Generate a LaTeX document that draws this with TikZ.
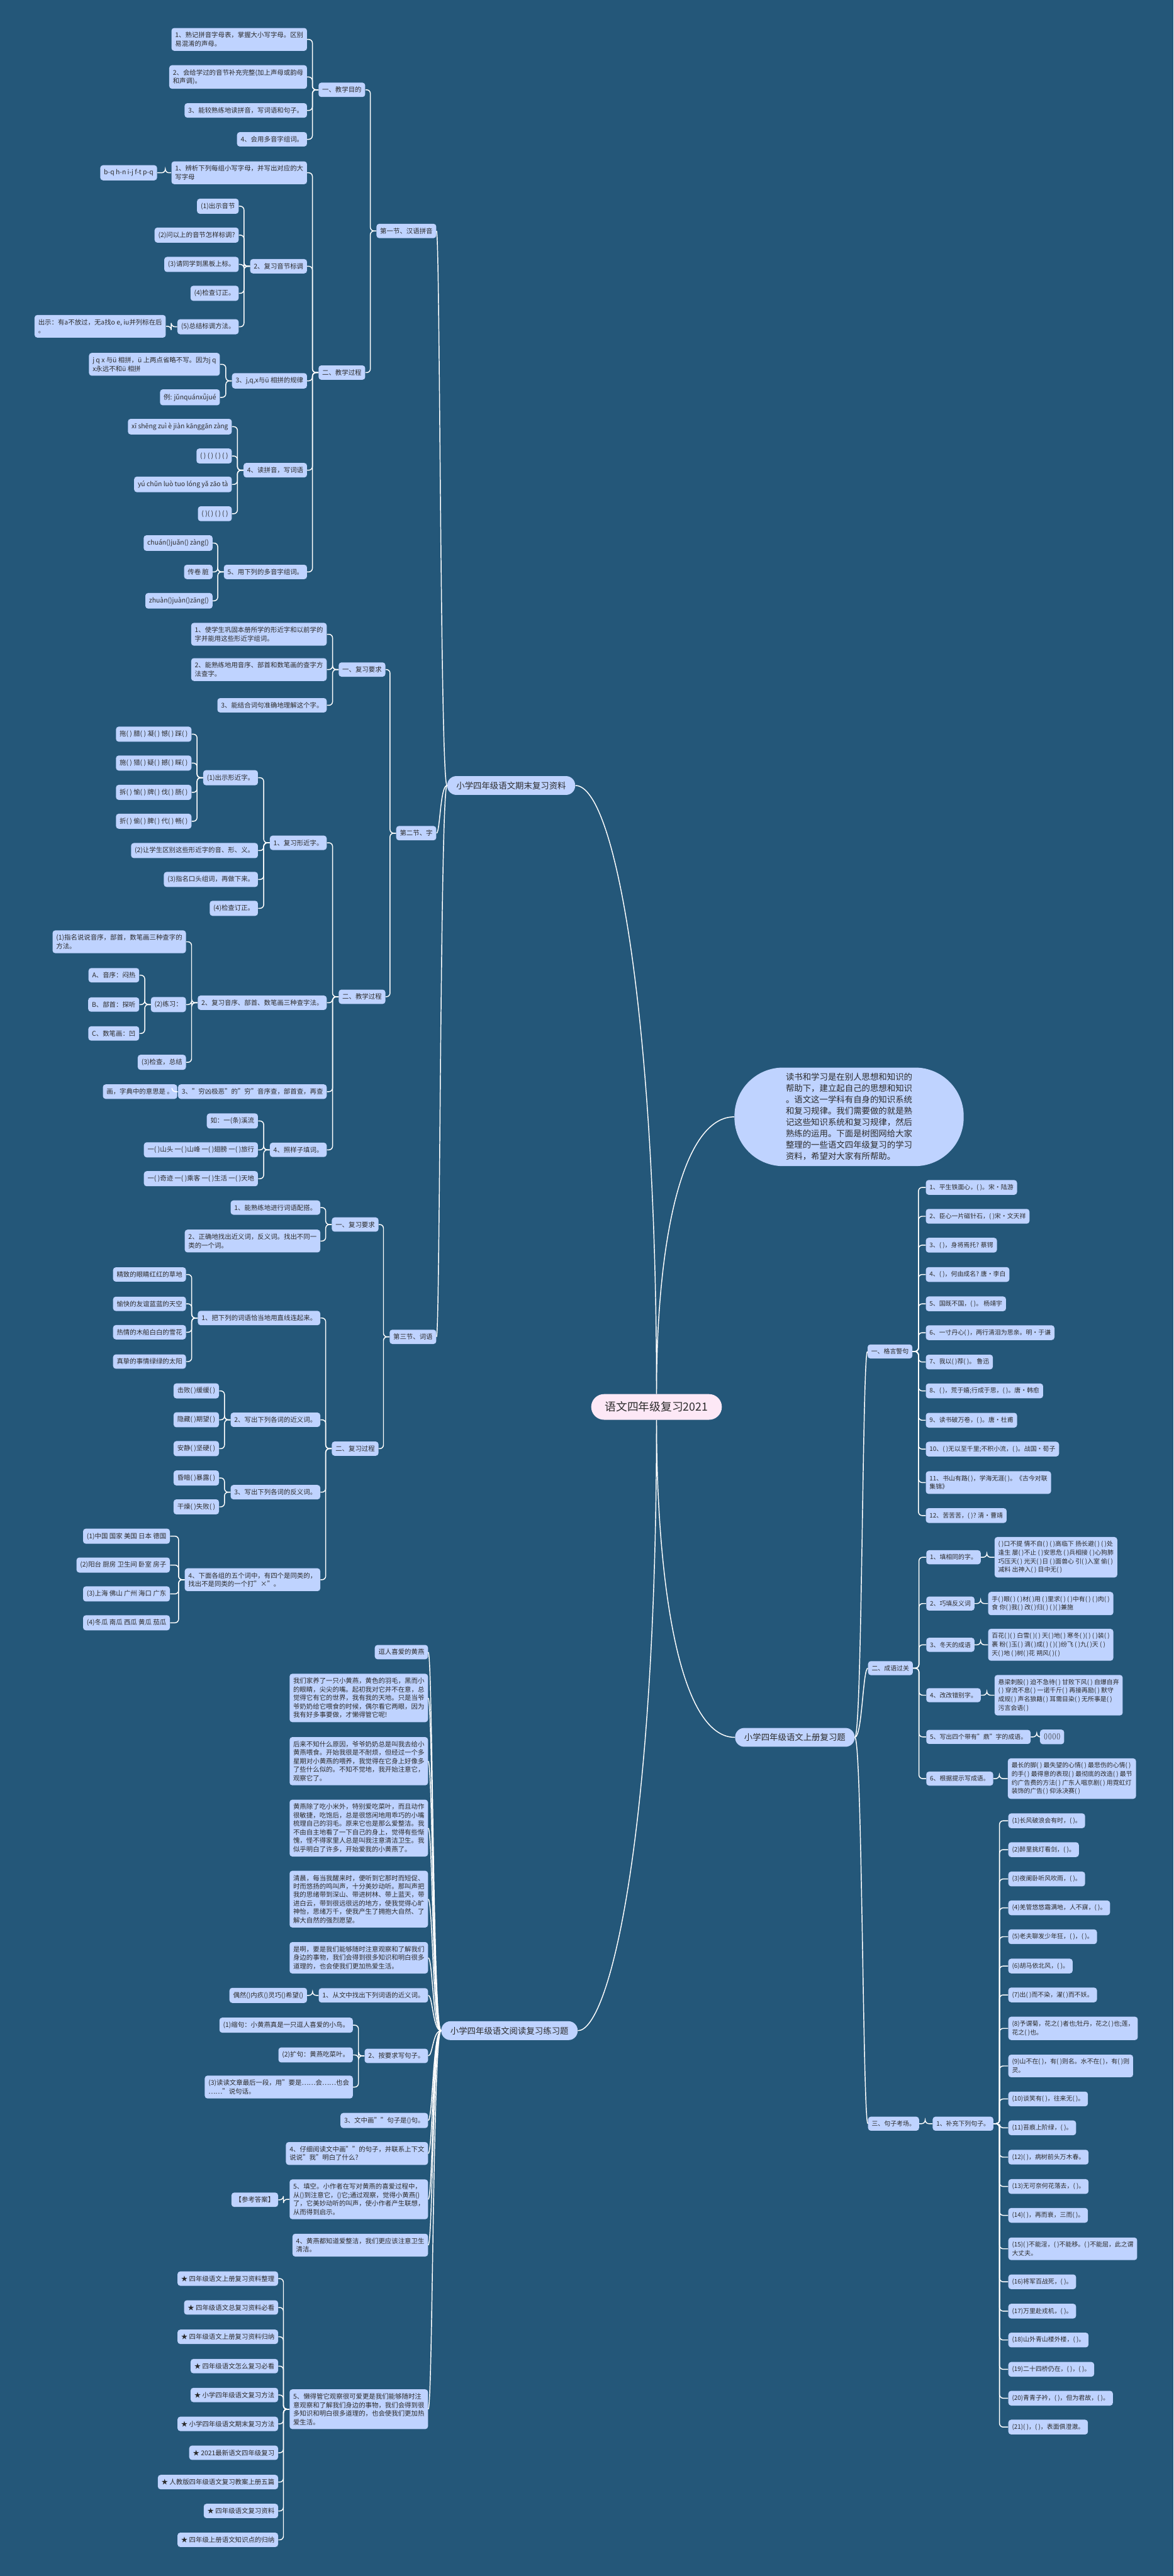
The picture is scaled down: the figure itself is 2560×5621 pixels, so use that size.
\documentclass[tikz,border=0pt]{standalone}
\usepackage{fontspec}
\setmainfont{Noto Sans CJK SC}
\definecolor{bgc}{HTML}{245779}
\definecolor{nodefill}{HTML}{BFD3FF}
\definecolor{rootfill}{HTML}{FDE8F6}
\definecolor{txt}{HTML}{2B2B2B}
\begin{document}
\begin{tikzpicture}[x=0.5pt, y=-0.5pt,
        box/.style={fill=nodefill, text=txt, rounded corners=3pt, inner xsep=4pt, inner ysep=4.5pt, align=left},
        lbox/.style={box, anchor=east, font=\fontsize{7.15}{9.25}\selectfont},
        rbox/.style={box, anchor=west, font=\fontsize{6.8}{9.35}\selectfont},
        mainbox/.style={fill=nodefill, text=txt, rounded corners=10pt, minimum height=20.5pt, inner xsep=10pt, font=\fontsize{9.2}{11}\selectfont},
        rootbox/.style={fill=rootfill, text=txt, rounded corners=14pt, minimum height=28pt, inner xsep=15pt, font=\fontsize{12.2}{14}\selectfont},
        bubble/.style={fill=nodefill, text=txt, rounded corners=53pt, minimum width=250pt, minimum height=107.5pt, align=left, font=\fontsize{9.2}{12.35}\selectfont},
        link/.style={draw=white, line width=1pt, rounded corners=4pt}]
    % bracket links from a parent to its children
    \newcommand{\leftlinks}[2]{\foreach \c in {#2} {\draw[link] (#1.west) -- ++(-13,0) |- (\c.east);}}
    \newcommand{\rightlinks}[2]{\foreach \c in {#2} {\draw[link] (#1.east) -- ++(13,0) |- (\c.west);}}

    \useasboundingbox (0,0) rectangle (2560,5621);
    \fill[bgc] (0,0) rectangle (2560,5621);

    % root and the intro bubble
    \node[rootbox] (root) at (1432,3070) {语文四年级复习2021};
    \node[bubble] (intro) at (1852,2437) {读书和学习是在别人思想和知识的\\帮助下，建立起自己的思想和知识\\。语文这一学科有自身的知识系统\\和复习规律。我们需要做的就是熟\\记这些知识系统和复习规律，然后\\熟练的运用。下面是树图网给大家\\整理的一些语文四年级复习的学习\\资料，希望对大家有所帮助。};

    % main branches
    \node[mainbox, anchor=west] (qimo) at (975,1714) {小学四年级语文期末复习资料};
    \node[mainbox, anchor=west] (yuedu) at (962,4431) {小学四年级语文阅读复习练习题};
    \node[mainbox, anchor=west] (shangce) at (1603,3791) {小学四年级语文上册复习题};

    \draw[link] (root.north) .. controls +(0,-800) and +(90,0) .. (qimo.east);
    \draw[link] (root.north) .. controls +(0,-350) and +(-110,0) .. (intro.west);
    \draw[link] (root.south) .. controls +(0,350) and +(-123,0) .. (shangce.west);
    \draw[link] (root.south) .. controls +(0,900) and +(70,0) .. (yuedu.east);

    % ---------- 第一节 汉语拼音 ----------
    \node[lbox] (s1) at (952,504) {第一节、汉语拼音};
    \node[lbox] (s1a) at (797,196) {一、教学目的};
    \node[lbox] (s1a1) at (670,86) {1、熟记拼音字母表，掌握大小写字母。区别\\易混淆的声母。};
    \node[lbox] (s1a2) at (670,168) {2、会给学过的音节补充完整(加上声母或韵母\\和声调)。};
    \node[lbox] (s1a3) at (670,241) {3、能较熟练地读拼音，写词语和句子。};
    \node[lbox] (s1a4) at (670,304) {4、会用多音字组词。};
    \node[lbox] (s1b) at (797,813) {二、教学过程};
    \node[lbox] (s1b1) at (670,377) {1、辨析下列每组小写字母，并写出对应的大\\写字母};
    \node[lbox] (s1b1a) at (343,377) {b-q h-n i-j f-t p-q};
    \node[lbox] (s1b2) at (670,581) {2、复习音节标调};
    \node[lbox] (s1b2a) at (521,450) {(1)出示音节};
    \node[lbox] (s1b2b) at (521,513) {(2)问以上的音节怎样标调?};
    \node[lbox] (s1b2c) at (521,577) {(3)请同学到黑板上标。};
    \node[lbox] (s1b2d) at (521,640) {(4)检查订正。};
    \node[lbox] (s1b2e) at (521,713) {(5)总结标调方法。};
    \node[lbox] (s1b2e1) at (362,712) {出示：有a不放过，无a找o e, iu并列标在后\\。};
    \node[lbox] (s1b3) at (670,831) {3、j,q,x与ü 相拼的规律};
    \node[lbox] (s1b3a) at (480,795) {j q x 与ü 相拼，ü 上两点省略不写。因为j q\\x永远不和ü 相拼};
    \node[lbox] (s1b3b) at (480,867) {例: jǔnquánxǚjué};
    \node[lbox] (s1b4) at (670,1026) {4、读拼音，写词语};
    \node[lbox] (s1b4a) at (506,931) {xī shēng zuì è jiàn kānggān zàng};
    \node[lbox] (s1b4b) at (506,995) {( ) ( ) ( ) ( )};
    \node[lbox] (s1b4c) at (506,1057) {yú chǔn luò tuo lóng yǎ zāo tà};
    \node[lbox] (s1b4d) at (506,1121) {( )( ) ( ) ( )};
    \node[lbox] (s1b5) at (670,1248) {5、用下列的多音字组词。};
    \node[lbox] (s1b5a) at (464,1185) {chuán()juǎn() zàng()};
    \node[lbox] (s1b5b) at (464,1248) {传卷 脏};
    \node[lbox] (s1b5c) at (464,1311) {zhuàn()juàn()zāng()};

    \leftlinks{s1}{s1a,s1b}
    \leftlinks{s1a}{s1a1,s1a2,s1a3,s1a4}
    \leftlinks{s1b}{s1b1,s1b2,s1b3,s1b4,s1b5}
    \leftlinks{s1b1}{s1b1a}
    \leftlinks{s1b2}{s1b2a,s1b2b,s1b2c,s1b2d,s1b2e}
    \leftlinks{s1b2e}{s1b2e1}
    \leftlinks{s1b3}{s1b3a,s1b3b}
    \leftlinks{s1b4}{s1b4a,s1b4b,s1b4c,s1b4d}
    \leftlinks{s1b5}{s1b5a,s1b5b,s1b5c}

    % ---------- 第二节 字 ----------
    \node[lbox] (s2) at (952,1818) {第二节、字};
    \node[lbox] (s2a) at (841,1461) {一、复习要求};
    \node[lbox] (s2a1) at (713,1384) {1、使学生巩固本册所学的形近字和以前学的\\字并能用这些形近字组词。};
    \node[lbox] (s2a2) at (713,1461) {2、能熟练地用音序、部首和数笔画的查字方\\法查字。};
    \node[lbox] (s2a3) at (713,1539) {3、能结合词句准确地理解这个字。};
    \node[lbox] (s2b) at (841,2175) {二、教学过程};
    \node[lbox] (s2b1) at (713,1839) {1、复习形近字。};
    \node[lbox] (s2b1a) at (563,1697) {(1)出示形近字。};
    \node[lbox] (s2b1a1) at (418,1602) {拖( ) 腊( ) 凝( ) 憾( ) 踩( )};
    \node[lbox] (s2b1a2) at (418,1665) {施( ) 猎( ) 疑( ) 撼( ) 睬( )};
    \node[lbox] (s2b1a3) at (418,1729) {拆( ) 愉( ) 牌( ) 伐( ) 肠( )};
    \node[lbox] (s2b1a4) at (418,1792) {折( ) 偷( ) 脾( ) 代( ) 畅( )};
    \node[lbox] (s2b1b) at (563,1856) {(2)让学生区别这些形近字的音、形、义。};
    \node[lbox] (s2b1c) at (563,1919) {(3)指名口头组词，再做下来。};
    \node[lbox] (s2b1d) at (563,1982) {(4)检查订正。};
    \node[lbox] (s2b2) at (713,2188) {2、复习音序、部首、数笔画三种查字法。};
    \node[lbox] (s2b2a) at (406,2055) {(1)指名说说音序，部首，数笔画三种查字的\\方法。};
    \node[lbox] (s2b2b) at (406,2192) {(2)练习：};
    \node[lbox] (s2b2b1) at (304,2128) {A、音序：闷热};
    \node[lbox] (s2b2b2) at (304,2192) {B、部首：探听};
    \node[lbox] (s2b2b3) at (304,2255) {C、数笔画：凹};
    \node[lbox] (s2b2c) at (406,2318) {(3)检查，总结};
    \node[lbox] (s2b3) at (713,2382) {3、"穷凶极恶"的"穷"音序查，部首查，再查};
    \node[lbox] (s2b3a) at (387,2382) {画，字典中的意思是 。};
    \node[lbox] (s2b4) at (713,2509) {4、照样子填词。};
    \node[lbox] (s2b4a) at (563,2446) {如：一(条)溪流};
    \node[lbox] (s2b4b) at (563,2509) {一( )山头 一( )山峰 一( )翅膀 一( )旅行};
    \node[lbox] (s2b4c) at (563,2572) {一( )奇迹 一( )乘客 一( )生活 一( )天地};

    \leftlinks{s2}{s2a,s2b}
    \leftlinks{s2a}{s2a1,s2a2,s2a3}
    \leftlinks{s2b}{s2b1,s2b2,s2b3,s2b4}
    \leftlinks{s2b1}{s2b1a,s2b1b,s2b1c,s2b1d}
    \leftlinks{s2b1a}{s2b1a1,s2b1a2,s2b1a3,s2b1a4}
    \leftlinks{s2b2}{s2b2a,s2b2b,s2b2c}
    \leftlinks{s2b2b}{s2b2b1,s2b2b2,s2b2b3}
    \leftlinks{s2b3}{s2b3a}
    \leftlinks{s2b4}{s2b4a,s2b4b,s2b4c}

    % ---------- 第三节 词语 ----------
    \node[lbox] (s3) at (952,2917) {第三节、词语};
    \node[lbox] (s3a) at (826,2672) {一、复习要求};
    \node[lbox] (s3a1) at (699,2635) {1、能熟练地进行词语配搭。};
    \node[lbox] (s3a2) at (699,2708) {2、正确地找出近义词，反义词。找出不同一\\类的一个词。};
    \node[lbox] (s3b) at (826,3161) {二、复习过程};
    \node[lbox] (s3b1) at (699,2876) {1、把下列的词语恰当地用直线连起来。};
    \node[lbox] (s3b1a) at (406,2781) {精致的眼睛红红的草地};
    \node[lbox] (s3b1b) at (406,2845) {愉快的友谊蓝蓝的天空};
    \node[lbox] (s3b1c) at (406,2907) {热情的木船白白的雪花};
    \node[lbox] (s3b1d) at (406,2971) {真挚的事情绿绿的太阳};
    \node[lbox] (s3b2) at (699,3098) {2、写出下列各词的近义词。};
    \node[lbox] (s3b2a) at (478,3035) {击败( )缓缓( )};
    \node[lbox] (s3b2b) at (478,3098) {隐藏( )期望( )};
    \node[lbox] (s3b2c) at (478,3161) {安静( )坚硬( )};
    \node[lbox] (s3b3) at (699,3256) {3、写出下列各词的反义词。};
    \node[lbox] (s3b3a) at (478,3225) {昏暗( )暴露( )};
    \node[lbox] (s3b3b) at (478,3288) {干燥( )失败( )};
    \node[lbox] (s3b4) at (699,3447) {4、下面各组的五个词中，有四个是同类的，\\找出不是同类的一个打"×"。};
    \node[lbox] (s3b4a) at (371,3352) {(1)中国 国家 美国 日本 德国};
    \node[lbox] (s3b4b) at (371,3415) {(2)阳台 厨房 卫生间 卧室 房子};
    \node[lbox] (s3b4c) at (371,3478) {(3)上海 佛山 广州 海口 广东};
    \node[lbox] (s3b4d) at (371,3541) {(4)冬瓜 南瓜 西瓜 黄瓜 茄瓜};

    \leftlinks{s3}{s3a,s3b}
    \leftlinks{s3a}{s3a1,s3a2}
    \leftlinks{s3b}{s3b1,s3b2,s3b3,s3b4}
    \leftlinks{s3b1}{s3b1a,s3b1b,s3b1c,s3b1d}
    \leftlinks{s3b2}{s3b2a,s3b2b,s3b2c}
    \leftlinks{s3b3}{s3b3a,s3b3b}
    \leftlinks{s3b4}{s3b4a,s3b4b,s3b4c,s3b4d}

    \foreach \c in {s1,s2,s3}
        \draw[link] (qimo.west) .. controls +(-15,0) and +(8,0) .. (\c.east);

    % ---------- 阅读练习 ----------
    \node[lbox] (r0) at (934,3605) {逗人喜爱的黄燕};
    \node[lbox] (r1) at (934,3705) {我们家养了一只小黄燕，黄色的羽毛，黑而小\\的眼睛，尖尖的嘴。起初我对它并不在意，总\\觉得它有它的世界，我有我的天地。只是当爷\\爷奶奶给它喂食的时候，偶尔看它两眼，因为\\我有好多事要做，才懒得管它呢!};
    \node[lbox] (r2) at (934,3843) {后来不知什么原因，爷爷奶奶总是叫我去给小\\黄燕喂食。开始我很是不耐烦，但经过一个多\\星期对小黄燕的喂养，我觉得在它身上好像多\\了些什么似的。不知不觉地，我开始注意它，\\观察它了。};
    \node[lbox] (r3) at (934,3989) {黄燕除了吃小米外，特别爱吃菜叶，而且动作\\很敏捷，吃饱后，总是很悠闲地用乖巧的小嘴\\梳理自己的羽毛。原来它也是那么爱整洁。我\\不由自主地看了一下自己的身上，觉得有些惭\\愧，怪不得家里人总是叫我注意清洁卫生。我\\似乎明白了许多，开始爱我的小黄燕了。};
    \node[lbox] (r4) at (934,4144) {清晨，每当我醒来时，便听到它那时而短促、\\时而悠扬的鸣叫声，十分美妙动听。那叫声把\\我的思绪带到深山、带进树林、带上蓝天，带\\进白云，带到很远很远的地方，使我觉得心旷\\神怡，思绪万千，使我产生了拥抱大自然、了\\解大自然的强烈愿望。};
    \node[lbox] (r5) at (934,4272) {是啊，要是我们能够随时注意观察和了解我们\\身边的事物，我们会得到很多知识和明白很多\\道理的，也会使我们更加热爱生活。};
    \node[lbox] (q1) at (934,4354) {1、从文中找出下列词语的近义词。};
    \node[lbox] (q1a) at (670,4354) {偶然()内疚()灵巧()希望()};
    \node[lbox] (q2) at (934,4486) {2、按要求写句子。};
    \node[lbox] (q2a) at (770,4419) {(1)缩句：小黄燕真是一只逗人喜爱的小鸟。};
    \node[lbox] (q2b) at (770,4484) {(2)扩句：黄燕吃菜叶。};
    \node[lbox] (q2c) at (770,4554) {(3)读读文章最后一段，用"要是……会……也会\\……"说句话。};
    \node[lbox] (q3) at (934,4627) {3、文中画""句子是()句。};
    \node[lbox] (q4) at (934,4699) {4、仔细阅读文中画""的句子，并联系上下文\\说说"我"明白了什么?};
    \node[lbox] (q5) at (934,4799) {5、填空。小作者在写对黄燕的喜爱过程中，\\从()到注意它，()它;通过观察，觉得小黄燕()\\了，它美妙动听的叫声，使小作者产生联想，\\从而得到启示。};
    \node[lbox] (q5a) at (607,4800) {【参考答案】};
    \node[lbox] (a4) at (934,4899) {4、黄燕都知道爱整洁，我们更应该注意卫生\\清洁。};
    \node[lbox] (a5) at (934,5257) {5、懒得管它观察很可爱更是我们能够随时注\\意观察和了解我们身边的事物，我们会得到很\\多知识和明白很多道理的，也会使我们更加热\\爱生活。};
    \node[lbox] (st1) at (607,4972) {★ 四年级语文上册复习资料整理};
    \node[lbox] (st2) at (607,5035) {★ 四年级语文总复习资料必看};
    \node[lbox] (st3) at (607,5099) {★ 四年级语文上册复习资料归纳};
    \node[lbox] (st4) at (607,5163) {★ 四年级语文怎么复习必看};
    \node[lbox] (st5) at (607,5226) {★ 小学四年级语文复习方法};
    \node[lbox] (st6) at (607,5289) {★ 小学四年级语文期末复习方法};
    \node[lbox] (st7) at (607,5352) {★ 2021最新语文四年级复习};
    \node[lbox] (st8) at (607,5416) {★ 人教版四年级语文复习教案上册五篇};
    \node[lbox] (st9) at (607,5479) {★ 四年级语文复习资料};
    \node[lbox] (st10) at (607,5542) {★ 四年级上册语文知识点的归纳};

    \foreach \c in {r0,r1,r2,r3,r4,r5,q1,q2,q3,q4,q5,a4,a5}
        \draw[link] (yuedu.west) .. controls +(-18,0) and +(10,0) .. (\c.east);
    \leftlinks{q1}{q1a}
    \leftlinks{q2}{q2a,q2b,q2c}
    \leftlinks{q5}{q5a}
    \leftlinks{a5}{st1,st2,st3,st4,st5,st6,st7,st8,st9,st10}

    % ---------- 上册复习题: 格言警句 ----------
    \node[rbox] (g) at (1892,2949) {一、格言警句};
    \node[rbox] (g1) at (2019,2591) {1、平生铁面心，( )。宋•陆游};
    \node[rbox] (g2) at (2019,2654) {2、臣心一片磁针石，( )宋•文天祥};
    \node[rbox] (g3) at (2019,2717) {3、( )，身将焉托? 蔡锷};
    \node[rbox] (g4) at (2019,2781) {4、( )，何由成名? 唐•李白};
    \node[rbox] (g5) at (2019,2845) {5、国既不国，( )。 杨靖宇};
    \node[rbox] (g6) at (2019,2908) {6、一寸丹心( )，两行清泪为思亲。明•于谦};
    \node[rbox] (g7) at (2019,2972) {7、我以( )荐( )。 鲁迅};
    \node[rbox] (g8) at (2019,3035) {8、( )，荒于嬉;行成于思，( )。唐•韩愈};
    \node[rbox] (g9) at (2019,3099) {9、读书破万卷，( )。唐•杜甫};
    \node[rbox] (g10) at (2019,3162) {10、( )无以至千里;不积小流，( )。战国•荀子};
    \node[rbox] (g11) at (2019,3235) {11、书山有路( )，学海无涯( )。《古今对联\\集锦》};
    \node[rbox] (g12) at (2019,3307) {12、苦苦苦，( )? 清•曹靖};
    \rightlinks{g}{g1,g2,g3,g4,g5,g6,g7,g8,g9,g10,g11,g12}

    % ---------- 成语过关 ----------
    \node[rbox] (c) at (1893,3640) {二、成语过关};
    \node[rbox] (c1) at (2020,3398) {1、填相同的字。};
    \node[rbox] (c1a) at (2169,3398) {( )口不提 情不自( ) ( )高临下 扬长避( ) ( )处\\逢生 屡( )不止 ( )安思危 ( )兵相接 ( )心狗肺\\巧压天( ) 光天( )日 ( )面兽心 引( )入室 偷( )\\减料 出神入( ) 目中无( )};
    \node[rbox] (c2) at (2020,3499) {2、巧填反义词};
    \node[rbox] (c2a) at (2155,3499) {手( )眼( ) ( )材( )用 ( )里求( ) ( )中有( ) ( )肉( )\\食 你( )我( ) 改( )归( ) ( )( )兼施};
    \node[rbox] (c3) at (2020,3589) {3、冬天的成语};
    \node[rbox] (c3a) at (2155,3589) {百花( )( ) 白雪( )( ) 天( )地( ) 寒冬( )( ) ( )装( )\\裹 粉( )玉( ) 滴( )成( ) ( )( )纷飞 ( )九( )天 ( )\\天( )地 ( )树( )花 朔风( )( )};
    \node[rbox] (c4) at (2020,3699) {4、改改错别字。};
    \node[rbox] (c4a) at (2169,3699) {悬梁刺股( ) 迫不急待( ) 甘败下风( ) 自爆自弃\\( ) 穿流不息( ) 一诺千斤( ) 再接再励( ) 默守\\成规( ) 声名狼籍( ) 耳需目染( ) 无所事是( )\\污言会语( )};
    \node[rbox] (c5) at (2020,3790) {5、写出四个带有"鼎"字的成语。};
    \node[rbox] (c5a) at (2268,3790) {()()()()};
    \node[rbox] (c6) at (2020,3881) {6、根据提示写成语。};
    \node[rbox] (c6a) at (2198,3881) {最长的脚( ) 最失望的心情( ) 最悲伤的心情( )\\的手( ) 最得意的表现( ) 最彻底的改造( ) 最节\\约广告费的方法( ) 广东人唱京剧( ) 用霓虹灯\\装饰的广告( ) 仰泳决赛( )};
    \rightlinks{c}{c1,c2,c3,c4,c5,c6}
    \rightlinks{c1}{c1a}
    \rightlinks{c2}{c2a}
    \rightlinks{c3}{c3a}
    \rightlinks{c4}{c4a}
    \rightlinks{c5}{c5a}
    \rightlinks{c6}{c6a}

    % ---------- 句子考场 ----------
    \node[rbox] (j) at (1893,4634) {三、句子考场。};
    \node[rbox] (j1) at (2034,4634) {1、补充下列句子。};
    \node[rbox] (ja) at (2199,3973) {(1)长风破浪会有时，( )。};
    \node[rbox] (jb) at (2199,4036) {(2)醉里挑灯看剑，( )。};
    \node[rbox] (jc) at (2199,4100) {(3)夜阑卧听风吹雨，( )。};
    \node[rbox] (jd) at (2199,4163) {(4)羌管悠悠霜满地，人不寐，( )。};
    \node[rbox] (je) at (2199,4226) {(5)老夫聊发少年狂，( )，( )。};
    \node[rbox] (jf) at (2199,4290) {(6)胡马依北风，( )。};
    \node[rbox] (jg) at (2199,4353) {(7)出( )而不染，濯( )而不妖。};
    \node[rbox] (jh) at (2199,4426) {(8)予谓菊，花之( )者也;牡丹，花之( )也;莲，\\花之( )也。};
    \node[rbox] (ji) at (2199,4508) {(9)山不在( )，有( )则名。水不在( )，有( )则\\灵。};
    \node[rbox] (jj) at (2199,4580) {(10)谈笑有( )，往来无( )。};
    \node[rbox] (jk) at (2199,4643) {(11)苔痕上阶绿，( )。};
    \node[rbox] (jl) at (2199,4707) {(12)( )，病树前头万木春。};
    \node[rbox] (jm) at (2199,4771) {(13)无可奈何花落去，( )。};
    \node[rbox] (jn) at (2199,4834) {(14)( )，再而衰，三而( )。};
    \node[rbox] (jo) at (2199,4907) {(15)( )不能淫，( )不能移。( )不能屈，此之谓\\大丈夫。};
    \node[rbox] (jp) at (2199,4979) {(16)将军百战死，( )。};
    \node[rbox] (jq) at (2199,5043) {(17)万里赴戎机，( )。};
    \node[rbox] (jr) at (2199,5106) {(18)山外青山楼外楼，( )。};
    \node[rbox] (js) at (2199,5170) {(19)二十四桥仍在，( )，( )。};
    \node[rbox] (jt) at (2199,5233) {(20)青青子衿，( )，但为君故，( )。};
    \node[rbox] (ju) at (2199,5296) {(21)( )，( )，表面俱澄澈。};
    \rightlinks{j}{j1}
    \rightlinks{j1}{ja,jb,jc,jd,je,jf,jg,jh,ji,jj,jk,jl,jm,jn,jo,jp,jq,jr,js,jt,ju}

    \foreach \c in {g,c,j}
        \draw[link] (shangce.east) .. controls +(16,0) and +(-11,0) .. (\c.west);
\end{tikzpicture}
\end{document}
